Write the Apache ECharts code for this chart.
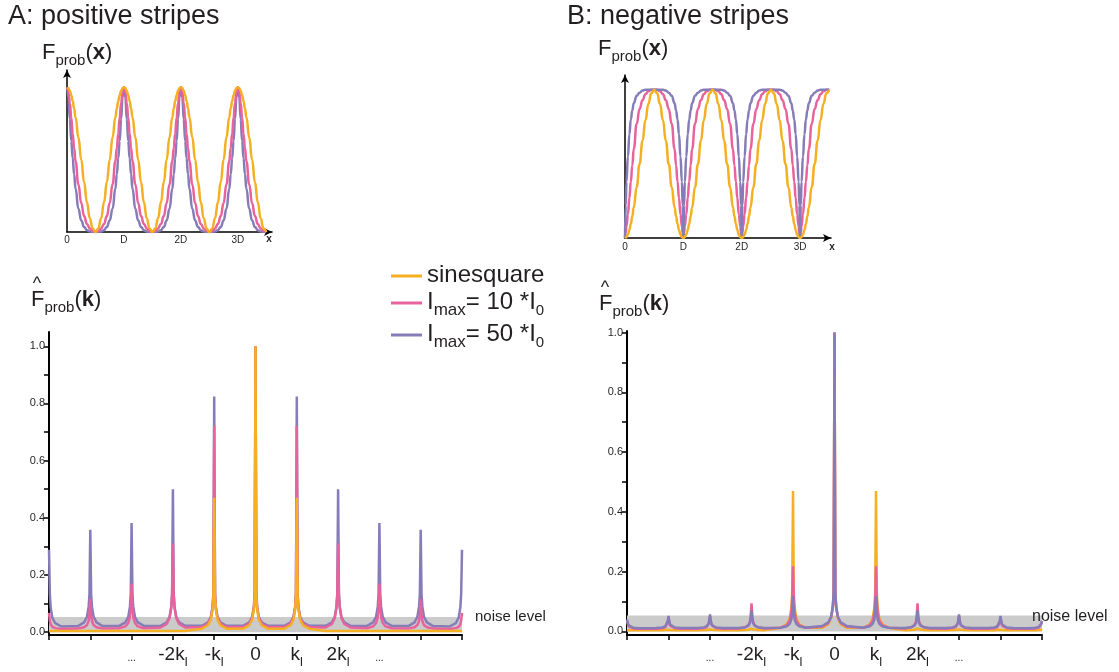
<!DOCTYPE html>
<html><head><meta charset="utf-8">
<script src="https://cdn.jsdelivr.net/npm/echarts@6/dist/echarts.min.js"></script>
<style>html,body{margin:0;padding:0;background:#fff}#c{width:1119px;height:672px}</style>
</head><body><div id="c"></div>
<script>
// ---------- data ----------
const seriesNames = ['sinesquare', 'I10', 'I50'];
const seriesColors = ['#F5AF22', '#E8629B', '#867CB8'];

// real space: half-period profiles, u = distance (in units of D) from stripe centre
const realU     = [0, 0.0125, 0.025, 0.05, 0.075, 0.1, 0.125, 0.15, 0.2, 0.25, 0.3, 0.35, 0.4, 0.45, 0.5];
const posSine   = [1, 0.998, 0.994, 0.976, 0.946, 0.905, 0.854, 0.794, 0.655, 0.5, 0.345, 0.206, 0.095, 0.024, 0];
const posI10    = [1, 0.99, 0.97, 0.89, 0.79, 0.68, 0.58, 0.49, 0.33, 0.2, 0.11, 0.055, 0.025, 0.008, 0];
const posI50    = [1, 0.98, 0.93, 0.78, 0.63, 0.51, 0.40, 0.30, 0.16, 0.08, 0.035, 0.012, 0.004, 0.001, 0];
const negSine   = [0, 0.0015, 0.006, 0.024, 0.054, 0.095, 0.146, 0.206, 0.345, 0.5, 0.655, 0.794, 0.905, 0.976, 1];
const negI10    = [0, 0.04, 0.08, 0.16, 0.27, 0.38, 0.49, 0.6, 0.77, 0.87, 0.93, 0.97, 0.99, 1, 1];
const negI50    = [0, 0.22, 0.38, 0.55, 0.7, 0.8, 0.86, 0.91, 0.96, 0.98, 0.995, 1, 1, 1, 1];
const realTickLabels = ['0', 'D', '2D', '3D'];

// Fourier space: peak heights at k = n * k_l
const kPeaks      = [-5, -4, -3, -2, -1, 0, 1, 2, 3, 4, 5];
const specPosSine = [0, 0, 0, 0, 0.47, 1.0, 0.47, 0, 0, 0, 0];
const specPosI10  = [0.067, 0.116, 0.17, 0.31, 0.723, 1.0, 0.723, 0.31, 0.17, 0.116, 0.067];
const specPosI50  = [0.288, 0.358, 0.382, 0.50, 0.824, 1.0, 0.824, 0.50, 0.382, 0.358, 0.288];
const specNegSine = [0.003, 0.004, 0.006, 0.012, 0.47, 1.0, 0.47, 0.012, 0.006, 0.004, 0.003];
const specNegI10  = [0.035, 0.045, 0.05, 0.094, 0.218, 1.0, 0.218, 0.094, 0.05, 0.045, 0.035];
const specNegI50  = [0.04, 0.052, 0.057, 0.07, 0.118, 1.0, 0.118, 0.07, 0.057, 0.052, 0.035];
const posBase = [0.004, 0.010, 0.014];   // floor between peaks: sine, I10, I50
const negBase = [0.004, 0.008, 0.010];
// peak skirt: offset in k, fraction of peak, absolute cap
const flareDk   = [0.3, 0.15, 0.08, 0.04, 0.02];
const flareFrac = [0.02, 0.06, 0.13, 0.25, 0.45];
const flareCap  = [0.008, 0.02, 0.04, 0.075, 0.12];
const noiseLevel = 0.053;
const kTickMain = ['', '', '...', '-2k', '-k', '0', 'k', '2k', '...', '', ''];
const kTickSub  = ['', '', '', 'l', 'l', '', 'l', 'l', '', '', ''];

// ---------- builders ----------
function buildReal(profile) {
  const pts = [];
  for (let n = 0; n <= 3; n++) {
    for (let i = (n ? 1 : 0); i < realU.length; i++) pts.push([n + realU[i], profile[i]]);
    if (n < 3) for (let i = realU.length - 2; i >= 0; i--) pts.push([n + 1 - realU[i], profile[i]]);
  }
  return pts;
}
function buildSpec(heights, base) {
  const pts = [];
  const skirt = (h, j) => base + Math.min(h * flareFrac[j], flareCap[j]);
  kPeaks.forEach((k, i) => {
    const h = heights[i];
    for (let j = 0; j < flareDk.length; j++) {
      const x = k - flareDk[j];
      if (x >= -5) pts.push([x, skirt(h, j)]);
    }
    pts.push([k, Math.max(h, base)]);
    for (let j = flareDk.length - 1; j >= 0; j--) {
      const x = k + flareDk[j];
      if (x <= 5) pts.push([x, skirt(h, j)]);
    }
  });
  return pts;
}

const FONT = "'Liberation Sans', Arial, Helvetica, sans-serif";
const TXT = '#231f20';

function lineSeries(name, colorIdx, data, axis, smooth) {
  return {
    name: name, type: 'line', data: data, xAxisIndex: axis, yAxisIndex: axis,
    showSymbol: false, symbol: 'none', smooth: smooth ? true : false, smoothMonotone: smooth ? 'x' : undefined,
    lineStyle: { width: 2.5, color: seriesColors[colorIdx] }, itemStyle: { color: seriesColors[colorIdx] },
    silent: true, animation: false
  };
}
function noiseSeries(axis) {
  return {
    name: 'noise', type: 'line', data: [], xAxisIndex: axis, yAxisIndex: axis, silent: true,
    markArea: { silent: true, itemStyle: { color: '#cbcbcb' },
      data: [[{ xAxis: -5, yAxis: 0 }, { xAxis: 5, yAxis: noiseLevel }]] }
  };
}

const realX = (idx, max, margin) => ({
  gridIndex: idx, type: 'value', min: 0, max: max, interval: 1,
  axisLine: { show: true, symbol: ['none', 'arrow'], symbolSize: [6, 8], lineStyle: { color: '#000', width: 1.5 } },
  axisTick: { show: false }, splitLine: { show: false },
  axisLabel: { margin: margin, fontSize: 10, fontFamily: FONT, color: TXT, showMaxLabel: false,
    formatter: v => (Number.isInteger(v) && v >= 0 && v < realTickLabels.length) ? realTickLabels[v] : '' }
});
const realY = (idx, max) => ({
  gridIndex: idx, type: 'value', min: 0, max: max,
  axisLine: { show: true, symbol: ['none', 'arrow'], symbolSize: [6, 8], lineStyle: { color: '#000', width: 1.5 } },
  axisTick: { show: false }, axisLabel: { show: false }, splitLine: { show: false }
});
const kX = (idx) => ({
  gridIndex: idx, type: 'value', min: -5, max: 5, interval: 1,
  axisLine: { show: true, onZero: false, lineStyle: { color: '#000', width: 2 } },
  axisTick: { show: true, length: 5, lineStyle: { color: '#000', width: 1.5 } },
  splitLine: { show: false },
  axisLabel: { margin: 10, color: TXT, fontFamily: FONT,
    formatter: v => {
      const i = Math.round(v) + 5; const m = kTickMain[i];
      if (!m) return '';
      if (m === '...') return '{d|...}';
      return '{m|' + m + '}' + (kTickSub[i] ? '{s|' + kTickSub[i] + '}' : '');
    },
    rich: {
      m: { fontSize: 19, lineHeight: 20, verticalAlign: 'top', fontFamily: FONT, color: TXT },
      s: { fontSize: 13, lineHeight: 20, height: 6, verticalAlign: 'bottom', fontFamily: FONT, color: TXT },
      d: { fontSize: 10, lineHeight: 26, verticalAlign: 'middle', fontFamily: FONT, color: TXT }
    } }
});
const kY = (idx, min, max) => ({
  gridIndex: idx, type: 'value', min: min, max: max,
  axisLine: { show: true, onZero: false, lineStyle: { color: '#000', width: 2 } },
  axisTick: { show: true, length: 5, customValues: [0, 0.1, 0.2, 0.3, 0.4, 0.5, 0.6, 0.7, 0.8, 0.9, 1.0],
    lineStyle: { color: '#000', width: 1.5 } },
  splitLine: { show: false },
  axisLabel: { margin: 4, fontSize: 11, fontFamily: FONT, color: TXT,
    customValues: [0, 0.2, 0.4, 0.6, 0.8, 1.0], formatter: v => v.toFixed(1) }
});

function richLabel(varName) {
  return '{m|F}{s|prob}{m|(}{b|' + varName + '}{m|)}';
}
const labelRich = {
  m: { fontSize: 22, lineHeight: 24, verticalAlign: 'top', fontFamily: FONT, fill: TXT, color: TXT },
  s: { fontSize: 15, lineHeight: 24, height: 11, verticalAlign: 'bottom', fontFamily: FONT, fill: TXT, color: TXT },
  b: { fontSize: 22, lineHeight: 24, verticalAlign: 'top', fontWeight: 'bold', fontFamily: FONT, fill: TXT, color: TXT }
};
const legendText = {
  sinesquare: '{m|sinesquare}',
  I10: '{m|I}{s|max}{m|= 10 *I}{z|0}',
  I50: '{m|I}{s|max}{m|= 50 *I}{z|0}'
};

const option = {
  animation: false,
  backgroundColor: '#fff',
  grid: [
    { left: 67, top: 70, width: 205, height: 162, outerBoundsMode: 'none' },
    { left: 625, top: 75, width: 206, height: 163, outerBoundsMode: 'none' },
    { left: 49, top: 332, width: 413, height: 303, outerBoundsMode: 'none' },
    { left: 627, top: 331, width: 415, height: 304, outerBoundsMode: 'none' }
  ],
  xAxis: [realX(0, 3.6, 3), realX(1, 3.53, 4), kX(2), kX(3)],
  yAxis: [realY(0, 1.12), realY(1, 1.10), kY(2, -0.01, 1.05), kY(3, -0.012, 1.005)],
  legend: {
    data: seriesNames, orient: 'vertical', left: 391, top: 263, padding: 0, itemWidth: 31, itemHeight: 3, itemGap: 3,
    icon: 'rect', selectedMode: false,
    formatter: n => legendText[n],
    textStyle: { rich: {
      m: { fontSize: 24, lineHeight: 26, verticalAlign: 'top', fontFamily: FONT, color: TXT },
      s: { fontSize: 17, lineHeight: 26, height: 11, verticalAlign: 'bottom', fontFamily: FONT, color: TXT },
      z: { fontSize: 15, lineHeight: 26, height: 10, verticalAlign: 'bottom', fontFamily: FONT, color: TXT }
    } }
  },
  series: [
    lineSeries('I50', 2, buildReal(posI50), 0, true),
    lineSeries('I10', 1, buildReal(posI10), 0, true),
    lineSeries('sinesquare', 0, buildReal(posSine), 0, true),
    lineSeries('I10', 1, buildReal(negI10), 1, true),
    lineSeries('I50', 2, buildReal(negI50), 1, true),
    lineSeries('sinesquare', 0, buildReal(negSine), 1, true),
    noiseSeries(2),
    lineSeries('I50', 2, buildSpec(specPosI50, posBase[2]), 2, false),
    lineSeries('I10', 1, buildSpec(specPosI10, posBase[1]), 2, false),
    lineSeries('sinesquare', 0, buildSpec(specPosSine, posBase[0]), 2, false),
    noiseSeries(3),
    lineSeries('sinesquare', 0, buildSpec(specNegSine, negBase[0]), 3, false),
    lineSeries('I10', 1, buildSpec(specNegI10, negBase[1]), 3, false),
    lineSeries('I50', 2, buildSpec(specNegI50, negBase[2]), 3, false)
  ],
  graphic: [
    { type: 'text', x: 8, y: 17, style: { text: 'A: positive stripes', font: '27px ' + FONT, fill: TXT, verticalAlign: 'middle' } },
    { type: 'text', x: 567, y: 17, style: { text: 'B: negative stripes', font: '27px ' + FONT, fill: TXT, verticalAlign: 'middle' } },
    { type: 'text', x: 42, y: 42, style: { text: richLabel('x'), rich: labelRich, verticalAlign: 'top' } },
    { type: 'text', x: 598, y: 38, style: { text: richLabel('x'), rich: labelRich, verticalAlign: 'top' } },
    { type: 'text', x: 31, y: 289, style: { text: richLabel('k'), rich: labelRich, verticalAlign: 'top' } },
    { type: 'text', x: 599, y: 293, style: { text: richLabel('k'), rich: labelRich, verticalAlign: 'top' } },
    { type: 'text', x: 37, y: 284, style: { text: '^', font: '18px ' + FONT, fill: TXT, align: 'center', verticalAlign: 'middle' } },
    { type: 'text', x: 605, y: 288, style: { text: '^', font: '18px ' + FONT, fill: TXT, align: 'center', verticalAlign: 'middle' } },
    { type: 'text', x: 269, y: 239, style: { text: 'x', font: 'bold 10px ' + FONT, fill: TXT, align: 'center', verticalAlign: 'middle' } },
    { type: 'text', x: 832, y: 247, style: { text: 'x', font: 'bold 10px ' + FONT, fill: TXT, align: 'center', verticalAlign: 'middle' } },
    { type: 'text', x: 475, y: 617, style: { text: 'noise level', font: '15px ' + FONT, fill: TXT, verticalAlign: 'middle' } },
    { type: 'text', x: 1032, y: 617, z: 10, style: { text: 'noise level', font: '16px ' + FONT, fill: TXT, verticalAlign: 'middle' } }
  ]
};
const chart = echarts.init(document.getElementById('c'), null, { renderer: 'canvas', width: 1119, height: 672 });
chart.setOption(option);
</script></body></html>
